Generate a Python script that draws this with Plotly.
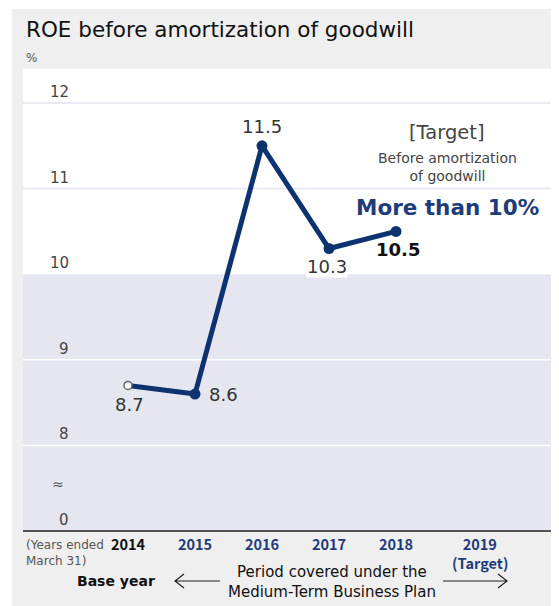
import plotly.graph_objects as go

# ---------------- data ----------------
years = [2014, 2015, 2016, 2017, 2018]
roe = [8.7, 8.6, 11.5, 10.3, 10.5]
value_labels = ["8.7", "8.6", "11.5", "10.3", "10.5"]

x_tick_vals = [2014, 2015, 2016, 2017, 2018, 2019.25]
x_tick_text = ["2014", "2015", "2016", "2017", "2018", "2019"]
target_year_note = "(Target)"

y_tick_vals = [7, 8, 9, 10, 11, 12]          # 7 is drawn as the broken-axis "0"
y_tick_text = ["0", "8", "9", "10", "11", "12"]
target_level = 10
axis_break_at = 7.55

title = "ROE before amortization of goodwill"

# ---------------- style ----------------
FONT = "DejaVu Sans"
NUMFONT = "Noto Sans CJK JP"
NAVY = "#0d3270"
NAVY_TXT = "#1e3c7a"
PANEL = "#efefef"
SHADE = "#e6e6f0"
GRID_LIGHT = "#e3e3ee"

OFF = 8                      # page body margin
W, H = 559 - OFF, 606 - OFF
ML, MR, MT, MB = 23 - OFF, 6, 69 - OFF, 75
PW, PH = W - ML - MR, H - MT - MB


def px(x):
    """reference-picture x pixel -> paper fraction"""
    return (x - OFF - ML) / PW


def py(y):
    """reference-picture y pixel -> paper fraction"""
    return (H - MB - (y - OFF)) / PH


fig = go.Figure()

fig.add_trace(go.Scatter(
    x=years, y=roe, mode="lines",
    line=dict(color=NAVY, width=5),
    hoverinfo="skip", showlegend=False,
))
fig.add_trace(go.Scatter(
    x=years[1:], y=roe[1:], mode="markers",
    marker=dict(color=NAVY, size=11),
    hoverinfo="skip", showlegend=False,
))
fig.add_trace(go.Scatter(
    x=years[:1], y=roe[:1], mode="markers",
    marker=dict(color="white", size=8, line=dict(color="#666666", width=1.5)),
    hoverinfo="skip", showlegend=False,
))

shapes = []
shapes.append(dict(type="rect", xref="paper", yref="paper", layer="below",
                   x0=px(12), x1=px(570), y0=py(620), y1=py(9),
                   fillcolor=PANEL, line=dict(width=0)))
shapes.append(dict(type="rect", xref="paper", yref="paper", layer="below",
                   x0=0, x1=1, y0=0, y1=1, fillcolor="white", line=dict(width=0)))
shapes.append(dict(type="rect", xref="paper", yref="y", layer="below",
                   x0=0, x1=1, y0=y_tick_vals[0], y1=target_level,
                   fillcolor=SHADE, line=dict(width=0)))
for v in y_tick_vals[1:]:
    if v == target_level:
        continue
    col = GRID_LIGHT if v > target_level else "white"
    shapes.append(dict(type="line", xref="paper", yref="y", layer="below",
                       x0=0, x1=1, y0=v, y1=v, line=dict(color=col, width=1.5)))
shapes.append(dict(type="line", xref="paper", yref="paper",
                   x0=0, x1=1, y0=0, y1=0, line=dict(color="#222222", width=1.5)))

arrow_y = 581
shapes.append(dict(type="path", xref="paper", yref="paper",
                   path=f"M {px(220)},{py(arrow_y)} L {px(176)},{py(arrow_y)} "
                        f"M {px(184)},{py(arrow_y - 7)} L {px(175)},{py(arrow_y)} L {px(184)},{py(arrow_y + 7)}",
                   line=dict(color="#222222", width=1.2)))
shapes.append(dict(type="path", xref="paper", yref="paper",
                   path=f"M {px(443)},{py(arrow_y)} L {px(506)},{py(arrow_y)} "
                        f"M {px(498)},{py(arrow_y - 7)} L {px(507)},{py(arrow_y)} L {px(498)},{py(arrow_y + 7)}",
                   line=dict(color="#222222", width=1.2)))


def note(text, x, y, size, color, xanchor="center", align="center", family=FONT):
    return dict(text=text, xref="paper", yref="paper", x=px(x), y=py(y),
                xanchor=xanchor, yanchor="middle", align=align, showarrow=False,
                font=dict(family=family, size=size, color=color))


ann = []
ann.append(note(title, 24, 29, 21.5, "#111111", xanchor="left"))
ann.append(note("%", 24, 58, 12, "#555555", xanchor="left"))

for v, t in zip(y_tick_vals, y_tick_text):
    ann.append(dict(text=t, xref="paper", yref="y", x=px(71), y=v, yshift=11,
                    xanchor="right", yanchor="middle", showarrow=False,
                    font=dict(family=FONT, size=15, color="#444444")))
ann.append(dict(text="≈", xref="paper", yref="y", x=px(66), y=axis_break_at,
                xanchor="right", yanchor="middle", showarrow=False,
                font=dict(family=FONT, size=14, color="#555555")))

label_offsets = [(2, -19), (28, 0), (0, 19), (-2, -18), (2, -18)]
for i, (x, y, t) in enumerate(zip(years, roe, value_labels)):
    dx, dy = label_offsets[i]
    last = i == len(years) - 1
    ann.append(dict(text=f"<b>{t}</b>" if last else t, x=x, y=y,
                    xshift=dx, yshift=dy, showarrow=False,
                    xanchor="center", yanchor="middle",
                    bgcolor="white" if i == 3 else None, borderpad=0,
                    font=dict(family=FONT, size=18,
                              color="#111111" if last else "#333333")))

ann.append(note("[Target]", 447, 133, 19.5, "#444444"))
ann.append(note("Before amortization<br>of goodwill", 447, 167, 14, "#444444"))
ann.append(note("<b>More than 10%</b>", 447, 207, 21.5, NAVY_TXT))

ann.append(note("(Years ended<br>March 31)", 24, 553, 12, "#555555", xanchor="left", align="left"))
ann.append(dict(text=f"<b>{target_year_note}</b>", x=x_tick_vals[-1], xref="x",
                yref="paper", y=py(562), xanchor="center", yanchor="middle",
                showarrow=False, font=dict(family=NUMFONT, size=14.5, color=NAVY_TXT)))
ann.append(note("<b>Base year</b>", 116, 581, 14, "#111111"))
ann.append(note("Period covered under the<br>Medium-Term Business Plan", 332, 582, 15, "#111111"))

tick_colors = ["#111111"] + [NAVY_TXT] * (len(x_tick_text) - 1)
tick_text_html = [f"<span style='color:{c}'><b>{t}</b></span>"
                  for t, c in zip(x_tick_text, tick_colors)]

fig.update_layout(
    width=W, height=H,
    margin=dict(l=ML, r=MR, t=MT, b=MB, pad=0),
    paper_bgcolor="white",
    plot_bgcolor="rgba(0,0,0,0)",
    shapes=shapes,
    annotations=ann,
    showlegend=False,
    xaxis=dict(range=[2012.433, 2020.343], tickvals=x_tick_vals, ticktext=tick_text_html,
               showgrid=False, zeroline=False, showline=False, ticks="",
               ticklabelstandoff=3,
               tickfont=dict(family=NUMFONT, size=14.5, color=NAVY_TXT), fixedrange=True),
    yaxis=dict(range=[7, 12.397], showticklabels=False, showgrid=False,
               zeroline=False, showline=False, ticks="", fixedrange=True),
)

fig.write_html("out.html")
